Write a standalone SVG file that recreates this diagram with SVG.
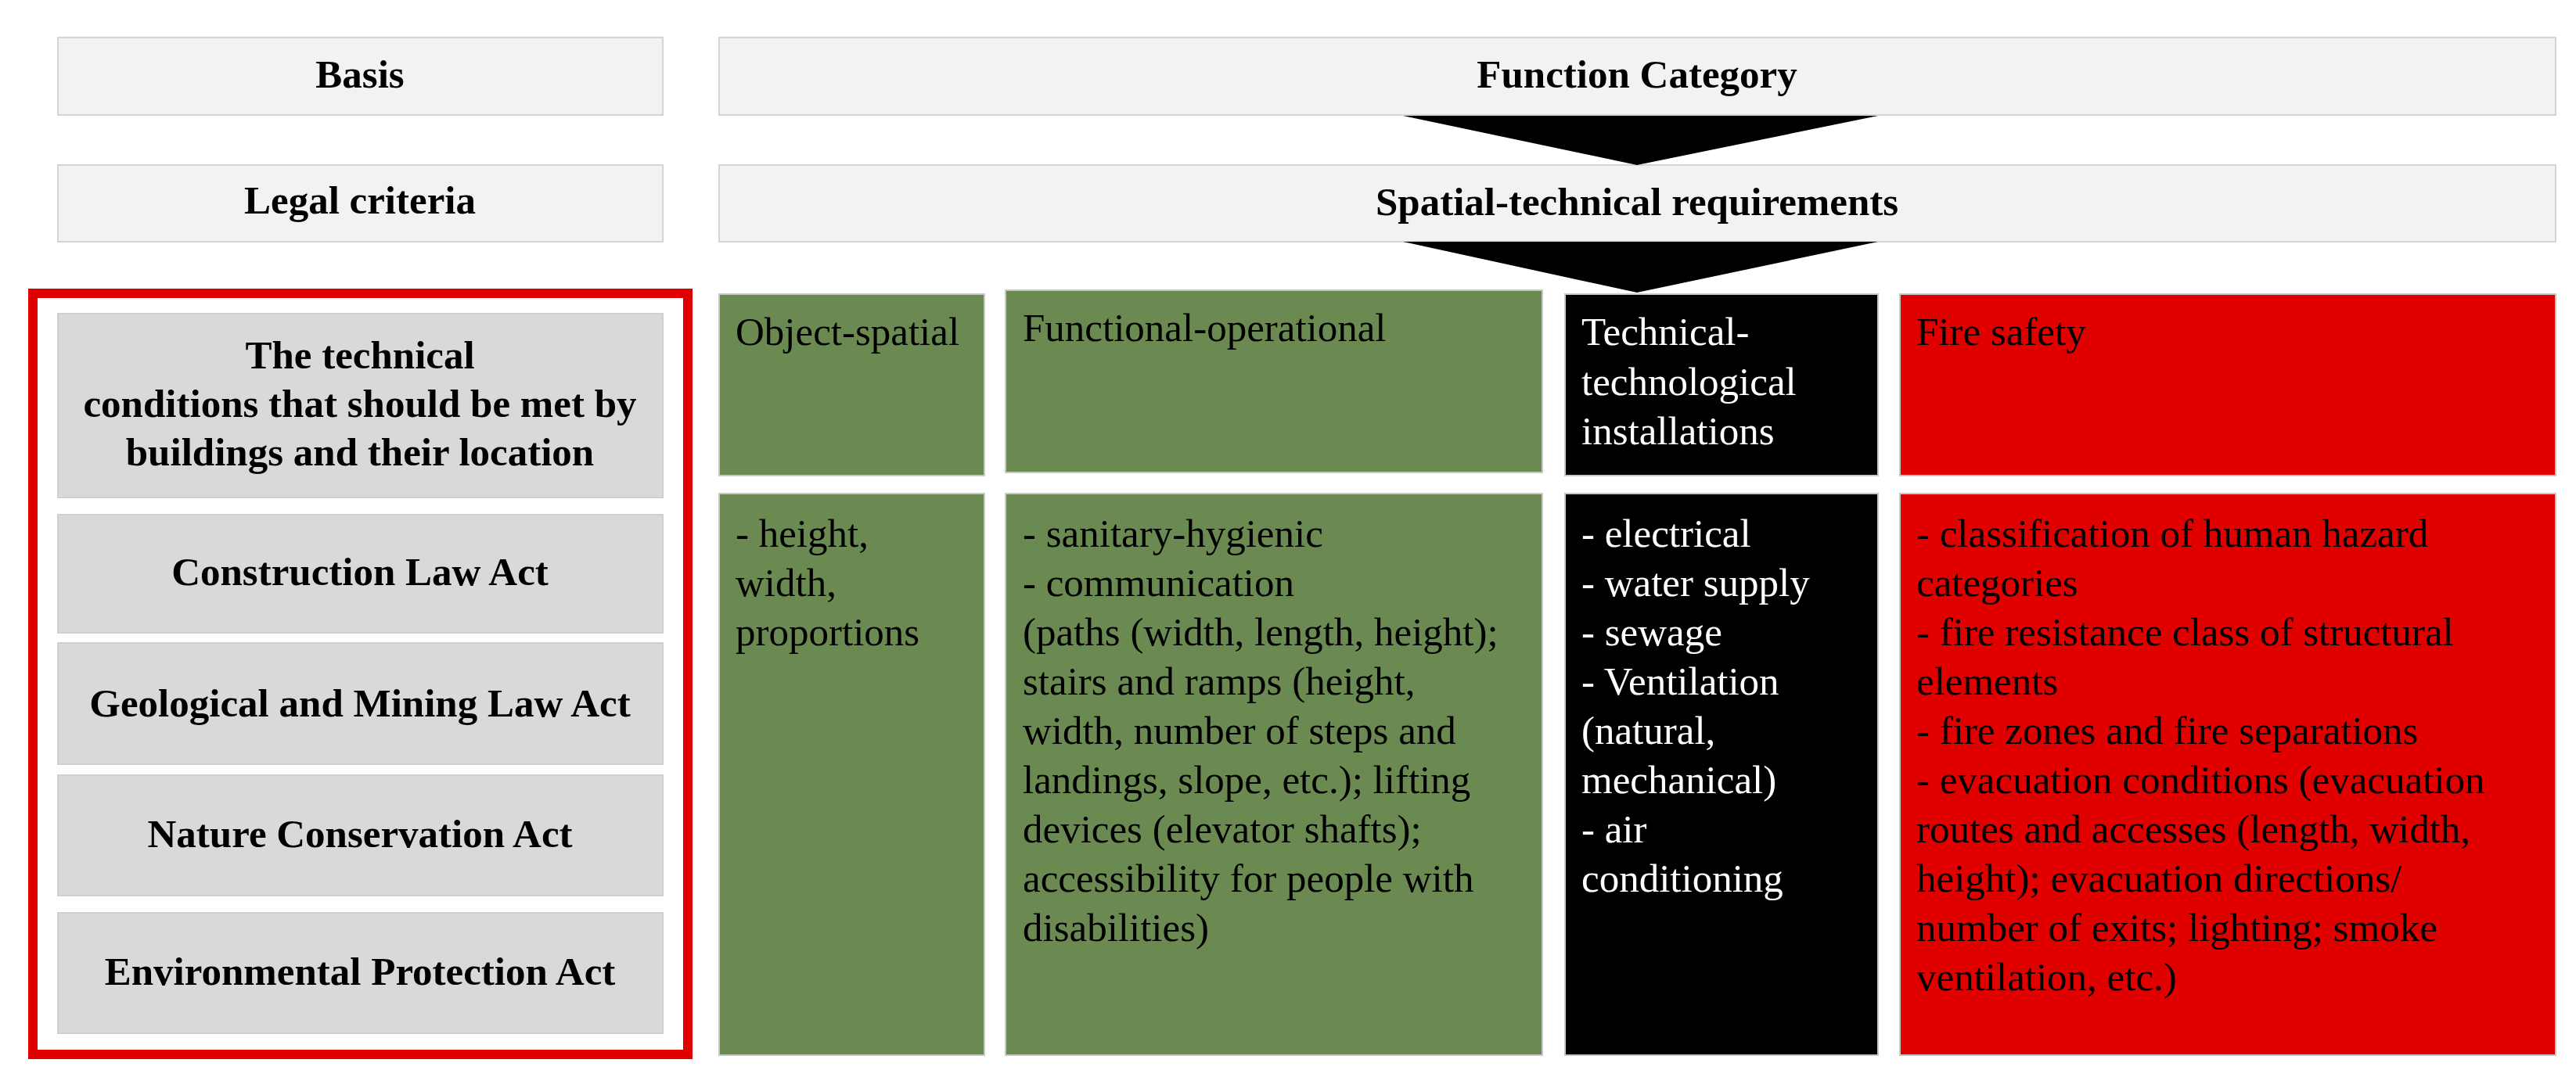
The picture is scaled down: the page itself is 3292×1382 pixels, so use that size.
<svg xmlns="http://www.w3.org/2000/svg" width="3292" height="1382" viewBox="0 0 3292 1382">
<style>
.hd{fill:#f2f2f2;stroke:#d4d4d4;stroke-width:2}
.lg{fill:#d9d9d9;stroke:#cfcfcf;stroke-width:2}
.gr{fill:#6b8a51;stroke:#c8c8c8;stroke-width:2}
.bk{fill:#000;stroke:#c8c8c8;stroke-width:2}
.rd{fill:#e00000;stroke:#c8c8c8;stroke-width:2}
text{font-family:"Liberation Serif","Times New Roman",serif;font-size:51px}
.b{font-weight:bold;text-anchor:middle}
.w{fill:#fff}
</style>
<rect width="3292" height="1382" fill="#fff"/>
<g id="basis"><rect class="hd" x="74" y="48" width="773" height="99"/><text class="b" x="460" y="112">Basis</text></g>
<g id="function-category"><rect class="hd" x="919" y="48" width="2347" height="99"/><text class="b" x="2092" y="112">Function Category</text></g>
<g id="legal-criteria"><rect class="hd" x="74" y="211" width="773" height="98"/><text class="b" x="460" y="273">Legal criteria</text></g>
<g id="spatial-technical"><rect class="hd" x="919" y="211" width="2347" height="98"/><text class="b" x="2092" y="275">Spatial-technical requirements</text></g>
<g id="connectors">
<polygon points="1793,148 2400,148 2092,211" fill="#000"/>
<polygon points="1793,309 2400,309 2092,374" fill="#000"/>
</g>
<g id="legal-frame"><rect x="42" y="375" width="837" height="973" fill="none" stroke="#e00000" stroke-width="12"/></g>
<g id="technical-conditions"><rect class="lg" x="74" y="401" width="773" height="235"/>
<text class="b" x="460" y="471">The technical</text><text class="b" x="460" y="533">conditions that should be met by</text><text class="b" x="460" y="595">buildings and their location</text></g>
<g id="construction-law"><rect class="lg" x="74" y="658" width="773" height="151"/><text class="b" x="460" y="748">Construction Law Act</text></g>
<g id="geological-law"><rect class="lg" x="74" y="822" width="773" height="155"/><text class="b" x="460" y="916">Geological and Mining Law Act</text></g>
<g id="nature-act"><rect class="lg" x="74" y="991" width="773" height="154"/><text class="b" x="460" y="1083">Nature Conservation Act</text></g>
<g id="environment-act"><rect class="lg" x="74" y="1167" width="773" height="154"/><text class="b" x="460" y="1259">Environmental Protection Act</text></g>
<g id="object-spatial"><rect class="gr" x="919" y="376" width="339" height="232"/><text x="940" y="441">Object-spatial</text></g>
<g id="functional-operational"><rect class="gr" x="1285" y="371" width="686" height="233"/><text x="1307" y="436">Functional-operational</text></g>
<g id="technical-installations"><rect class="bk" x="2000" y="376" width="400" height="232"/><text class="w" x="2021" y="441">Technical-</text><text class="w" x="2021" y="505">technological</text><text class="w" x="2021" y="568">installations</text></g>
<g id="fire-safety"><rect class="rd" x="2428" y="376" width="838" height="232"/><text x="2449" y="441">Fire safety</text></g>
<g id="object-spatial-items"><rect class="gr" x="919" y="631" width="339" height="718"/>
<text x="940" y="699">- height,</text><text x="940" y="762">width,</text><text x="940" y="825">proportions</text></g>
<g id="functional-items"><rect class="gr" x="1285" y="631" width="686" height="718"/>
<text x="1307" y="699">- sanitary-hygienic</text><text x="1307" y="762">- communication</text><text x="1307" y="825">(paths (width, length, height);</text><text x="1307" y="888">stairs and ramps (height,</text><text x="1307" y="951">width, number of steps and</text><text x="1307" y="1014">landings, slope, etc.); lifting</text><text x="1307" y="1077">devices (elevator shafts);</text><text x="1307" y="1140">accessibility for people with</text><text x="1307" y="1203">disabilities)</text></g>
<g id="technical-items"><rect class="bk" x="2000" y="631" width="400" height="718"/>
<text class="w" x="2021" y="699">- electrical</text><text class="w" x="2021" y="762">- water supply</text><text class="w" x="2021" y="825">- sewage</text><text class="w" x="2021" y="888">- Ventilation</text><text class="w" x="2021" y="951">(natural,</text><text class="w" x="2021" y="1014">mechanical)</text><text class="w" x="2021" y="1077">- air</text><text class="w" x="2021" y="1140">conditioning</text></g>
<g id="fire-items"><rect class="rd" x="2428" y="631" width="838" height="718"/>
<text x="2449" y="699">- classification of human hazard</text><text x="2449" y="762">categories</text><text x="2449" y="825">- fire resistance class of structural</text><text x="2449" y="888">elements</text><text x="2449" y="951">- fire zones and fire separations</text><text x="2449" y="1014">- evacuation conditions (evacuation</text><text x="2449" y="1077">routes and accesses (length, width,</text><text x="2449" y="1140">height); evacuation directions/</text><text x="2449" y="1203">number of exits; lighting; smoke</text><text x="2449" y="1266">ventilation, etc.)</text></g>
</svg>
